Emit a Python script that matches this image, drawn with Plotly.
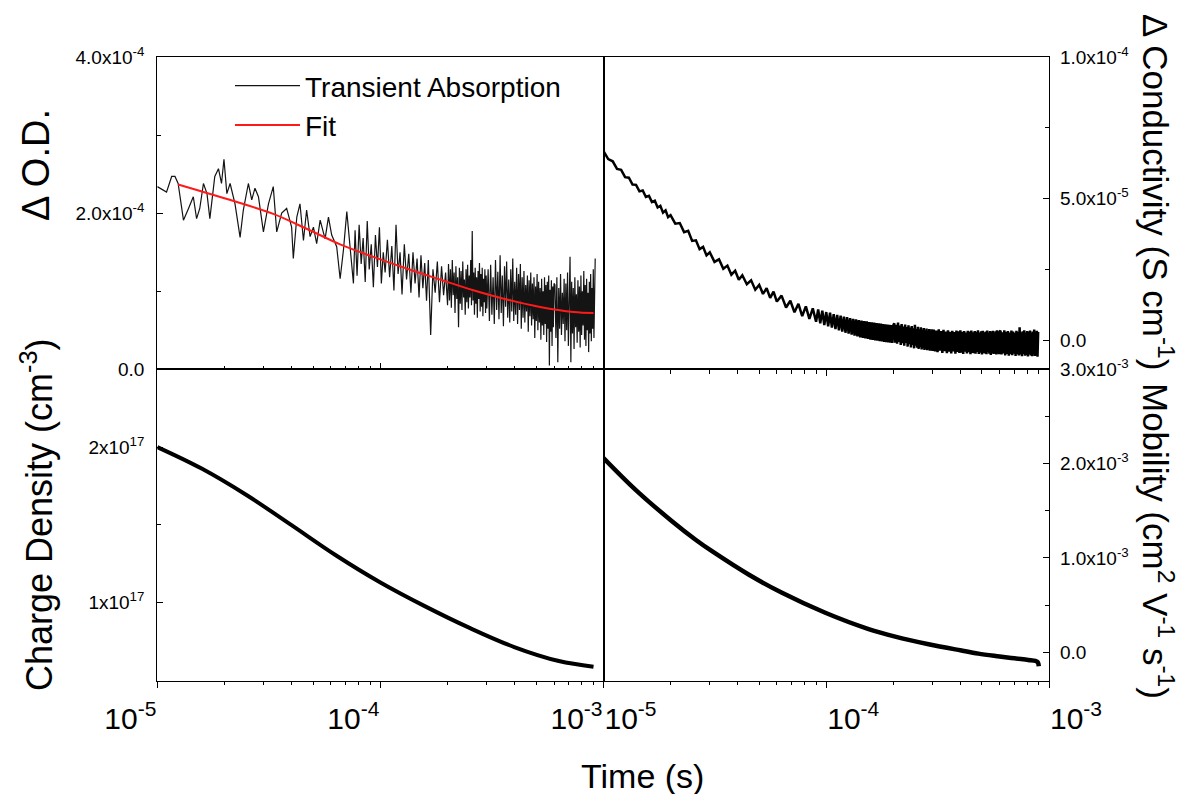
import plotly.graph_objects as go

W, H = 1187, 794
FONT = "Liberation Sans, Arial, sans-serif"

# ================= DATA =================
# Times in microseconds; values in the units noted.

# Transient absorption (Delta O.D., units of 1e-6)
ta_t_early = [10.0, 11.0, 11.6, 12.0, 12.4, 13.1, 13.8, 14.5, 15.0, 15.5, 16.1, 16.7, 17.2, 18.1, 18.8,
              19.4, 19.9, 20.5, 21.2, 22.3, 23.5, 24.3, 25.6, 26.5, 27.4, 28.4, 29.9, 31.5, 33.1, 34.3,
              36.1, 38.0, 40.0, 40.7, 42.2, 43.6, 45.2, 46.7, 48.4, 50.1, 51.8, 53.7, 56.5, 58.5, 60.5,
              63.7, 66.0, 68.3, 70.7, 73.1, 75.7]
ta_v_early = [234, 227, 247, 247, 238, 191, 206, 221, 193, 206, 238, 225, 193, 247, 257,
              238, 269, 225, 238, 212, 169, 204, 238, 217, 232, 221, 176, 212, 234, 176,
              200, 206, 182, 142, 195, 212, 165, 204, 170, 182, 161, 191, 167, 195, 172,
              157, 116, 153, 202, 153, 110]

ta_t_mid = [77, 78.6, 80.3, 82, 83.7, 85.5, 87.3, 89.1, 91, 93, 95, 97, 99, 101, 103,
            105, 107.5, 110, 112.5, 115, 117.5, 120, 122.5, 125, 128, 131, 134, 137, 140, 143,
            146, 149, 152, 155, 158, 161, 164, 168, 172, 176, 180, 184, 188, 192, 196, 200]
ta_v_mid = [178, 120, 185, 135, 168, 112, 190, 128, 160, 105, 172, 131, 182, 110, 150,
            124, 166, 118, 158, 101, 185, 122, 150, 96, 160, 115, 148, 98, 150, 110,
            142, 92, 146, 104, 136, 88, 140, 44, 128, 98, 138, 86, 132, 95, 124, 82]

# dense sampling grids of the late-time records (microseconds)
grid_t1 = [202, 204, 206, 208, 210, 212, 214, 216, 218, 220, 222, 224, 226, 228, 230, 232, 234, 236,
           238, 240, 242, 244, 246, 248, 250, 252, 254, 256, 258, 260, 262, 264, 266, 268, 270, 272,
           274, 276, 278, 280, 282, 284, 286, 288, 290, 292, 294, 296, 298, 300]
grid_t2 = [304, 308, 312, 316, 320, 324, 328, 332, 336, 340, 344, 348, 352, 356, 360, 364, 368, 372,
           376, 380, 384, 388, 392, 396, 400, 404, 408, 412, 416, 420, 424, 428, 432, 436, 440, 444,
           448, 452, 456, 460, 464, 468, 472, 476, 480, 484, 488, 492, 496, 500, 504, 508, 512, 516,
           520, 524, 528, 532, 536, 540, 544, 548, 552, 556, 560, 564, 568, 572, 576, 580, 584, 588,
           592, 596, 600]
grid_t3 = [606, 612, 618, 624, 630, 636, 642, 648, 654, 660, 666, 672, 678, 684, 690, 696, 702, 708,
           714, 720, 726, 732, 738, 744, 750, 756, 762, 768, 774, 780, 786, 792, 798, 804, 810, 816,
           822, 828, 834, 840, 846, 852, 858, 864, 870, 876, 882, 888, 894, 900, 906, 912, 918]

ta_v_1 = [135, 88, 128, 79, 140, 95, 124, 72, 132, 90,
          118, 54, 130, 84, 126, 76, 138, 92, 115, 70,
          128, 86, 134, 78, 120, 92, 140, 82, 177, 88,
          124, 70, 130, 84, 118, 66, 126, 90, 136, 74,
          122, 80, 130, 68, 116, 86, 128, 72, 120, 78]
ta_v_2 = [128, 62, 134, 70, 118, 58, 140, 76, 125, 64,
          146, 72, 120, 55, 132, 80, 138, 66, 115, 60,
          128, 74, 142, 62, 112, 70, 130, 58, 122, 76,
          135, 52, 118, 66, 126, 60, 108, 74, 120, 48,
          114, 68, 124, 56, 110, 64, 118, 40, 106, 62,
          122, 50, 112, 60, 104, 38, 116, 56, 100, 44,
          118, 58, 108, 35, 112, 52, 120, 5, 102, 48,
          114, 30, 106, 54, 110]
ta_v_3 = [108, 40, 118, 9, 104, 52, 122, 44, 98, 58,
          116, 36, 110, 50, 124, 30, 100, 144, 9, 112,
          46, 104, 26, 118, 54, 96, 34, 114, 48, 106,
          28, 120, 44, 100, 56, 126, 38, 108, 30, 116,
          50, 98, 22, 112, 46, 122, 36, 104, 52, 128,
          40, 110, 142]

# Fit to transient absorption (units of 1e-6)
fit_t = [12.4, 23.5, 33.1, 46.7, 66.0, 93.0, 131, 185, 261, 369, 520, 734, 902]
fit_v = [236.8, 213.0, 199.0, 180.0, 160.0, 144.0, 129.1, 115.0, 101.3, 89.4, 79.9, 73.5, 72.2]

# Delta conductivity (units of 1e-6 S/cm)
cond_t_early = [10, 10.5, 11, 11.5, 12, 12.5, 13, 13.5, 14, 14.5, 15, 15.5, 16, 16.5, 17, 17.5, 18, 18.5,
                19, 19.5, 20, 21, 22, 23, 24, 25, 26, 27, 28, 29, 30, 31.5, 33, 34.5, 36, 37.5, 39, 40.5,
                42, 44, 46, 48, 50, 52, 54, 56, 58, 60, 63, 66, 69, 72, 75, 78, 81, 84, 87, 90]
cond_v_early = [66.8, 64.0, 63.2, 60.5, 60.2, 57.6, 57.4, 55.0, 54.9, 52.6, 52.9, 50.6, 51.0, 48.8,
                49.3, 46.9, 47.5, 45.1, 45.9, 43.5, 44.2,
                41.2, 41.4, 38.2, 38.7, 35.1, 35.3, 32.2, 33.0, 30.0, 31.1,
                27.7, 28.6, 25.3, 26.4, 23.2, 24.6, 21.4, 23.0,
                19.8, 21.2, 17.9, 19.6, 16.4, 18.4, 15.0, 17.2, 13.7,
                15.8, 11.6, 14.0, 9.9, 12.9, 8.6, 12.0, 7.6, 11.3, 6.6]
cond_t_mid = [92, 94, 96, 98, 100, 102, 104, 106, 108, 110, 112, 114, 116, 118, 120, 122, 124, 126,
              128, 130, 132, 134, 136, 138, 140, 142, 144, 146, 148, 150, 152, 154, 156, 158, 160, 162,
              164, 166, 168, 170, 172, 174, 176, 178, 180, 182, 184, 186, 188, 190, 192, 194, 196, 198, 200]
cond_v_mid = [10.9, 6.0, 10.5, 5.4, 10.0, 5.0, 9.8, 4.5, 9.3, 4.0,
              9.0, 3.5, 8.7, 3.1, 8.4, 2.7, 8.2, 2.4, 7.9, 2.0,
              7.6, 1.7, 7.4, 1.4, 7.2, 1.1, 7.0, 0.9, 6.8, 0.7,
              6.7, 0.5, 6.5, 0.3, 6.4, 0.2, 6.3, 0.0, 6.1, -0.1,
              6.0, -0.3, 5.9, -0.4, 5.8, -0.5, 5.7, -0.6, 5.6, -0.7,
              5.5, -0.8, 5.4, -0.9, 5.3]
cond_v_1 = [6.0, -0.8, 5.5, -1.2, 6.3, -0.5, 5.2, -1.6, 5.8, -1.0,
            4.9, -1.9, 5.6, -0.9, 4.7, -2.2, 5.3, -1.3, 4.5, -2.5,
            5.1, -1.6, 4.3, -2.8, 5.5, -1.9, 4.0, -2.6, 4.8, -3.0,
            3.9, -2.3, 4.6, -3.2, 3.7, -2.7, 4.4, -3.4, 3.5, -2.9,
            4.2, -3.5, 3.4, -3.1, 4.0, -3.6, 3.2, -3.3, 3.9, -3.7]
cond_v_2 = [3.8, -3.9, 3.5, -4.2, 3.9, -3.6, 3.3, -4.4, 3.7, -3.8,
            3.1, -4.5, 3.6, -4.0, 3.0, -4.6, 3.4, -3.9, 2.9, -4.7,
            3.5, -4.1, 3.2, -4.4, 3.6, -4.3, 3.0, -4.8, 3.3, -4.0,
            2.8, -4.6, 3.4, -4.2, 3.1, -4.9, 3.5, -4.4, 2.9, -4.5,
            3.3, -4.7, 3.0, -4.1, 3.6, -4.8, 2.8, -4.3, 3.2, -5.0,
            3.4, -4.5, 2.9, -4.6, 3.1, -4.9, 3.5, -4.2, 2.8, -4.7,
            3.3, -5.1, 3.0, -4.4, 3.4, -4.8, 2.7, -4.6, 3.2, -5.0,
            3.6, -4.5, 2.9, -4.9, 3.1]
cond_v_3 = [3.4, -5.0, 2.9, -4.6, 3.6, -5.3, 3.0, -4.8, 3.3, -5.4,
            2.8, -4.9, 3.5, -5.2, 3.1, -4.7, 2.7, -5.5, 3.4, -4.9,
            3.0, -5.3, 4.6, -5.0, 2.9, -5.6, 3.2, -4.8, 3.6, -5.4,
            2.8, -5.1, 3.3, -5.7, 3.0, -4.9, 3.5, -5.3, 2.7, -5.6,
            3.1, -5.0, 3.8, -5.5, 2.9, -5.2, 3.4, -5.8, 3.0]

# Charge density (units of 1e17 cm^-3)
dens_t = [10, 15.8, 25.1, 39.8, 63.1, 100, 158, 251, 398, 631, 902]
dens_v = [2.0, 1.862, 1.692, 1.500, 1.305, 1.130, 0.978, 0.838, 0.715, 0.625, 0.589]

# Mobility (units of 1e-3 cm^2 V^-1 s^-1)
mob_t = [10, 13.9, 20.3, 26, 30.7, 44.8, 63.3, 99, 155, 204, 288, 400, 482, 600, 700, 807, 870, 890, 900]
mob_v = [2.06, 1.725, 1.389, 1.19, 1.071, 0.824, 0.63, 0.418, 0.245, 0.165, 0.085, 0.020, -0.015,
         -0.045, -0.065, -0.082, -0.093, -0.105, -0.15]

# Tick labels
x_tickvals = [1e-5, 1e-4, 1e-3]
x_ticktext = ["10<sup>-5</sup>", "10<sup>-4</sup>", "10<sup>-3</sup>"]
od_tickvals = [0, 2e-4, 4e-4]
od_ticktext = ["0.0", "2.0x10<sup>-4</sup>", "4.0x10<sup>-4</sup>"]
cond_tickvals = [0, 5e-5, 1e-4]
cond_ticktext = ["0.0", "5.0x10<sup>-5</sup>", "1.0x10<sup>-4</sup>"]
dens_tickvals = [1e17, 2e17]
dens_ticktext = ["1x10<sup>17</sup>", "2x10<sup>17</sup>"]
mob_tickvals = [0, 1e-3, 2e-3, 3e-3]
mob_ticktext = ["0.0", "1.0x10<sup>-3</sup>", "2.0x10<sup>-3</sup>", "3.0x10<sup>-3</sup>"]

# ================= assemble =================
assert len(ta_v_1) == len(grid_t1) and len(ta_v_2) == len(grid_t2) and len(ta_v_3) == len(grid_t3)
assert len(ta_v_early) == len(ta_t_early) and len(ta_v_mid) == len(ta_t_mid)
assert len(cond_v_early) == len(cond_t_early) and len(cond_v_mid) == len(cond_t_mid)
assert len(cond_v_1) == len(grid_t1) and len(cond_v_2) == len(grid_t2)

US = 1e-6
ta_t = [t * US for t in ta_t_early + ta_t_mid + grid_t1 + grid_t2 + grid_t3]
ta_v = [v * 1e-6 for v in ta_v_early + ta_v_mid + ta_v_1 + ta_v_2 + ta_v_3]
cond_t = [t * US for t in cond_t_early + cond_t_mid + grid_t1 + grid_t2 + grid_t3[:len(cond_v_3)]]
cond_v = [v * 1e-6 for v in cond_v_early + cond_v_mid + cond_v_1 + cond_v_2 + cond_v_3]

fig = go.Figure()
fig.add_trace(go.Scatter(x=ta_t, y=ta_v, mode="lines", name="Transient Absorption",
                         line=dict(color="#141414", width=1.2), xaxis="x", yaxis="y"))
fig.add_trace(go.Scatter(x=[t * US for t in fit_t], y=[v * 1e-6 for v in fit_v], mode="lines", name="Fit",
                         line=dict(color="#ff1a1a", width=2, shape="spline"), xaxis="x", yaxis="y"))
fig.add_trace(go.Scatter(x=cond_t, y=cond_v, mode="lines", showlegend=False,
                         line=dict(color="black", width=2.5), xaxis="x2", yaxis="y2"))
fig.add_trace(go.Scatter(x=[t * US for t in dens_t], y=[v * 1e17 for v in dens_v], mode="lines",
                         showlegend=False, line=dict(color="black", width=4, shape="spline"),
                         xaxis="x3", yaxis="y3"))
fig.add_trace(go.Scatter(x=[t * US for t in mob_t], y=[v * 1e-3 for v in mob_v], mode="lines",
                         showlegend=False, line=dict(color="black", width=4.5, shape="spline"),
                         xaxis="x4", yaxis="y4"))

# ================= layout =================
def px_x(p):
    return p / W

def px_y(p):
    return 1 - p / H

xL = [px_x(157.3), px_x(603.5)]
xR = [px_x(603.5), px_x(1049)]
yT = [px_y(369.3), px_y(57)]
yB = [px_y(680.5), px_y(369.3)]

minor_x = [m * 10 ** e for e in (-5, -4) for m in range(2, 10)]

tickfont_y = dict(family=FONT, size=19, color="black")
tickfont_x = dict(family=FONT, size=30, color="black")

common = dict(showgrid=False, zeroline=False, showline=True, linecolor="black", linewidth=1.2,
              mirror=True, tickcolor="black", tickwidth=1.2, automargin=False)

def xax(domain, anchor, ticks, labels, shift=0):
    d = dict(common, domain=domain, anchor=anchor, type="log", range=[-5, -3],
             tickmode="array", tickvals=x_tickvals, ticktext=x_ticktext, ticks=ticks, ticklen=6,
             showticklabels=labels, tickfont=tickfont_x,
             minor=dict(tickmode="array", tickvals=minor_x, ticks=ticks, ticklen=3.5,
                        tickcolor="black", tickwidth=1.2))
    if labels:
        d["ticklabelshift"] = shift
        d["ticklabelstandoff"] = 5
    return d

def yax(domain, anchor, rng, tv, tt, minor_vals, side="left", standoff=8):
    return dict(common, domain=domain, anchor=anchor, range=rng, side=side,
                tickmode="array", tickvals=tv, ticktext=tt, ticks="inside", ticklen=6,
                tickfont=tickfont_y, ticklabelstandoff=standoff,
                minor=dict(tickmode="array", tickvals=minor_vals, ticks="inside", ticklen=4,
                           tickcolor="black", tickwidth=1.2))

fig.update_layout(
    template="none",
    width=W, height=H, autosize=False,
    margin=dict(l=0, r=0, t=0, b=0, pad=0, autoexpand=False),
    paper_bgcolor="white", plot_bgcolor="white",
    font=dict(family=FONT, color="black"),
    xaxis=xax(xL, "y", "inside", False),
    xaxis2=xax(xR, "y2", "outside", False),
    xaxis3=xax(xL, "y3", "outside", True, shift=-27),
    xaxis4=xax(xR, "y4", "outside", True, shift=27),
    yaxis=yax(yT, "x", [0, 4.0001e-4], od_tickvals, od_ticktext, [1e-4, 3e-4]),
    yaxis2=yax(yT, "x2", [-1.02e-5, 1.0001e-4], cond_tickvals, cond_ticktext, [2.5e-5, 7.5e-5],
               side="right", standoff=6),
    yaxis3=yax(yB, "x3", [0.5e17, 2.5e17], dens_tickvals, dens_ticktext, [1.5e17]),
    yaxis4=yax(yB, "x4", [-0.3e-3, 3.0001e-3], mob_tickvals, mob_ticktext,
               [0.5e-3, 1.5e-3, 2.5e-3], side="right", standoff=6),
    showlegend=True,
    legend=dict(x=px_x(230), y=px_y(61), xanchor="left", yanchor="top",
                bgcolor="rgba(0,0,0,0)", borderwidth=0,
                font=dict(family=FONT, size=28, color="black"),
                itemwidth=65, tracegroupgap=0),
)

ann_font = dict(family=FONT, size=35, color="black")
annotations = [
    dict(text="\u0394 O.D.", x=px_x(36), y=px_y(165), textangle=-90,
         font=dict(family=FONT, size=38, color="black")),
    dict(text="Charge Density (cm<sup>-3</sup>)", x=px_x(37), y=px_y(515), textangle=-90,
         font=dict(family=FONT, size=36, color="black")),
    dict(text="\u0394 Conductivity (S cm<sup>-1</sup>)", x=px_x(1158), y=px_y(192), textangle=90),
    dict(text="Mobility (cm<sup>2</sup> V<sup>-1</sup> s<sup>-1</sup>)", x=px_x(1158), y=px_y(541), textangle=90),
    dict(text="Time (s)", x=px_x(642), y=px_y(776), textangle=0,
         font=dict(family=FONT, size=34, color="black")),
]
for a in annotations:
    a.setdefault("font", ann_font)
    a.update(xref="paper", yref="paper", xanchor="center", yanchor="middle", showarrow=False)
fig.update_layout(annotations=annotations)

fig.write_html("out.html")
